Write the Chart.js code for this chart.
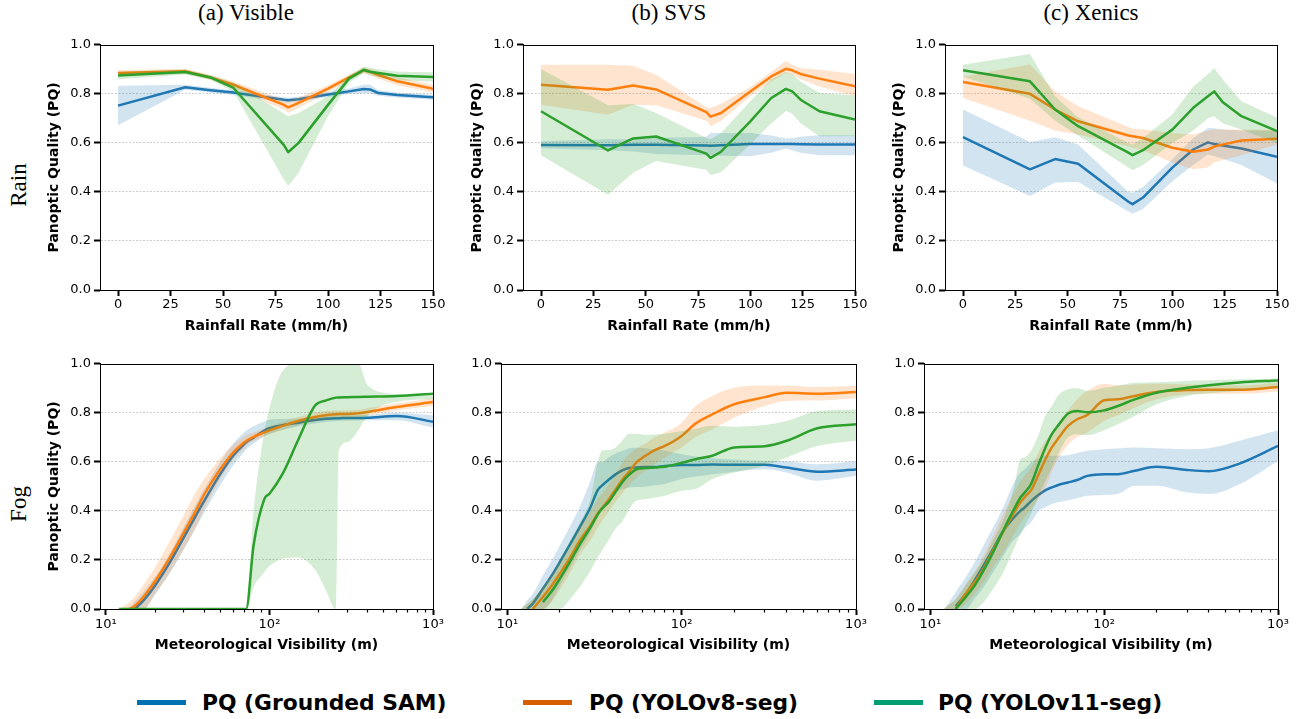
<!DOCTYPE html>
<html>
<head>
<meta charset="utf-8">
<script src="https://cdn.jsdelivr.net/npm/chart.js"></script>
<style>
  body { margin: 0; width: 1303px; height: 719px; background: #fff; position: relative; overflow: hidden; font-family: "DejaVu Sans", sans-serif; }
  canvas { position: absolute; }
  .col { position: absolute; top: 1px; font: 23px "Liberation Serif", serif; line-height: 23px; transform: translateX(-50%); white-space: nowrap; color: #000; }
  .row { position: absolute; font: 23px "Liberation Serif", serif; line-height: 23px; transform: translate(-50%, -50%) rotate(-90deg); white-space: nowrap; color: #000; }
  .leg-line { position: absolute; height: 5px; width: 49px; top: 700px; }
  .leg-text { position: absolute; top: 690px; font: bold 21.8px "DejaVu Sans", sans-serif; line-height: 26px; white-space: nowrap; color: #000; }
</style>
</head>
<body>
<div class="col" style="left:246px">(a) Visible</div>
<div class="col" style="left:669px">(b) SVS</div>
<div class="col" style="left:1091px">(c) Xenics</div>
<div class="row" style="left:18px; top:185px">Rain</div>
<div class="row" style="left:18px; top:504px">Fog</div>

<div class="leg-line" style="left:137px; background:#0072B2"></div>
<div class="leg-text" style="left:202px">PQ (Grounded SAM)</div>
<div class="leg-line" style="left:523px; background:#D55E00"></div>
<div class="leg-text" style="left:589px">PQ (YOLOv8-seg)</div>
<div class="leg-line" style="left:874px; background:#009E73"></div>
<div class="leg-text" style="left:938px">PQ (YOLOv11-seg)</div>

<script>
// ---- data ----
const rainX = [0, 32, 44, 55, 79, 81, 86, 100, 110, 117, 120, 124, 133, 150];

const visRainSam   = [0.752, 0.827, 0.815, 0.805, 0.776, 0.774, 0.778, 0.797, 0.81, 0.82, 0.818, 0.803, 0.795, 0.786];
const visRainSamLo = [0.672, 0.817, 0.805, 0.795, 0.766, 0.764, 0.768, 0.787, 0.8, 0.802, 0.802, 0.792, 0.785, 0.776];
const visRainSamHi = [0.833, 0.837, 0.825, 0.815, 0.786, 0.784, 0.788, 0.807, 0.822, 0.837, 0.838, 0.815, 0.805, 0.796];
const visRainV8    = [0.885, 0.892, 0.867, 0.837, 0.755, 0.745, 0.763, 0.821, 0.867, 0.896, 0.89, 0.877, 0.851, 0.821];
const visRainV8Lo  = [0.872, 0.882, 0.857, 0.822, 0.735, 0.722, 0.742, 0.805, 0.855, 0.885, 0.878, 0.862, 0.835, 0.805];
const visRainV8Hi  = [0.897, 0.902, 0.877, 0.85, 0.775, 0.77, 0.785, 0.835, 0.878, 0.907, 0.902, 0.89, 0.867, 0.837];
const visRainV11   = [0.875, 0.889, 0.867, 0.824, 0.591, 0.562, 0.6, 0.755, 0.862, 0.898, 0.89, 0.885, 0.874, 0.869];
const visRainV11Lo = [0.86, 0.879, 0.857, 0.81, 0.45, 0.424, 0.478, 0.71, 0.845, 0.885, 0.876, 0.868, 0.855, 0.85];
const visRainV11Hi = [0.89, 0.899, 0.877, 0.845, 0.72, 0.709, 0.722, 0.79, 0.875, 0.912, 0.905, 0.9, 0.89, 0.888];

const svsRainSam   = [0.591, 0.59, 0.592, 0.592, 0.589, 0.588, 0.59, 0.595, 0.595, 0.595, 0.595, 0.594, 0.593, 0.593];
const svsRainSamLo = [0.578, 0.57, 0.565, 0.555, 0.55, 0.55, 0.548, 0.545, 0.56, 0.577, 0.57, 0.56, 0.55, 0.55];
const svsRainSamHi = [0.607, 0.615, 0.615, 0.62, 0.625, 0.64, 0.64, 0.64, 0.63, 0.618, 0.62, 0.625, 0.631, 0.631];
const svsRainV8    = [0.837, 0.817, 0.834, 0.818, 0.725, 0.707, 0.722, 0.81, 0.871, 0.902, 0.896, 0.881, 0.862, 0.831];
const svsRainV8Lo  = [0.756, 0.715, 0.756, 0.753, 0.69, 0.668, 0.69, 0.79, 0.85, 0.885, 0.878, 0.86, 0.83, 0.79];
const svsRainV8Hi  = [0.919, 0.919, 0.915, 0.878, 0.745, 0.742, 0.76, 0.828, 0.89, 0.935, 0.918, 0.905, 0.898, 0.881];
const svsRainV11   = [0.729, 0.569, 0.618, 0.626, 0.556, 0.539, 0.564, 0.688, 0.783, 0.82, 0.81, 0.776, 0.729, 0.695];
const svsRainV11Lo = [0.55, 0.388, 0.478, 0.526, 0.49, 0.469, 0.48, 0.594, 0.68, 0.73, 0.72, 0.68, 0.627, 0.627];
const svsRainV11Hi = [0.901, 0.753, 0.759, 0.722, 0.62, 0.615, 0.64, 0.77, 0.86, 0.889, 0.88, 0.85, 0.803, 0.793];

const xenRainSam   = [0.623, 0.492, 0.534, 0.515, 0.36, 0.35, 0.377, 0.499, 0.573, 0.602, 0.595, 0.589, 0.577, 0.543];
const xenRainSamLo = [0.508, 0.383, 0.438, 0.44, 0.32, 0.312, 0.33, 0.444, 0.51, 0.553, 0.545, 0.535, 0.51, 0.434];
const xenRainSamHi = [0.736, 0.604, 0.623, 0.593, 0.4, 0.397, 0.42, 0.533, 0.62, 0.661, 0.66, 0.655, 0.65, 0.648];
const xenRainV8    = [0.848, 0.8, 0.736, 0.688, 0.63, 0.627, 0.62, 0.58, 0.564, 0.573, 0.585, 0.593, 0.61, 0.617];
const xenRainV8Lo  = [0.783, 0.69, 0.65, 0.634, 0.585, 0.58, 0.57, 0.52, 0.492, 0.5, 0.52, 0.53, 0.55, 0.593];
const xenRainV8Hi  = [0.871, 0.92, 0.81, 0.749, 0.665, 0.659, 0.655, 0.64, 0.634, 0.65, 0.655, 0.655, 0.655, 0.654];
const xenRainV11   = [0.896, 0.851, 0.736, 0.668, 0.56, 0.55, 0.57, 0.654, 0.743, 0.79, 0.81, 0.767, 0.709, 0.648];
const xenRainV11Lo = [0.87, 0.78, 0.69, 0.63, 0.5, 0.488, 0.51, 0.6, 0.65, 0.7, 0.709, 0.68, 0.655, 0.6];
const xenRainV11Hi = [0.919, 0.962, 0.79, 0.705, 0.6, 0.593, 0.62, 0.716, 0.83, 0.88, 0.905, 0.86, 0.77, 0.702];

const visFogX = [12, 14, 15, 17, 20, 25, 30, 35, 40, 50, 60, 70, 72, 80, 93, 100, 120, 150, 190, 220, 255, 265, 300, 350, 400, 600, 1000];
const visFogSam   = [null, null, 0.0, 0.035, 0.096, 0.198, 0.293, 0.374, 0.442, 0.55, 0.625, 0.672, 0.68, 0.699, 0.728, 0.737, 0.749, 0.76, 0.771, 0.776, 0.778, 0.778, 0.779, 0.779, 0.78, 0.787, 0.764];
const visFogSamLo = [0, 0, 0, 0, 0.06, 0.155, 0.245, 0.325, 0.395, 0.505, 0.585, 0.64, 0.65, 0.675, 0.705, 0.715, 0.73, 0.745, 0.757, 0.763, 0.766, 0.767, 0.768, 0.769, 0.77, 0.77, 0.74];
const visFogSamHi = [0, 0.01, 0.03, 0.07, 0.13, 0.235, 0.335, 0.42, 0.49, 0.6, 0.675, 0.72, 0.727, 0.745, 0.765, 0.772, 0.775, 0.777, 0.783, 0.787, 0.79, 0.79, 0.79, 0.79, 0.792, 0.8, 0.79];
const visFogV8    = [null, 0.0, 0.012, 0.05, 0.114, 0.218, 0.313, 0.394, 0.469, 0.57, 0.638, 0.679, 0.685, 0.702, 0.72, 0.729, 0.747, 0.767, 0.783, 0.79, 0.794, 0.795, 0.795, 0.798, 0.804, 0.824, 0.844];
const visFogV8Lo  = [0, 0, 0, 0, 0.06, 0.155, 0.245, 0.325, 0.41, 0.53, 0.61, 0.655, 0.665, 0.685, 0.705, 0.713, 0.73, 0.75, 0.766, 0.774, 0.778, 0.779, 0.78, 0.783, 0.79, 0.81, 0.828];
const visFogV8Hi  = [0, 0.03, 0.05, 0.1, 0.17, 0.285, 0.385, 0.47, 0.53, 0.615, 0.67, 0.705, 0.71, 0.72, 0.737, 0.745, 0.763, 0.783, 0.8, 0.807, 0.81, 0.81, 0.81, 0.813, 0.82, 0.838, 0.86];
const visFogV11   = [0, 0, 0, 0, 0, 0, 0, 0, 0, 0, 0, 0, 0.0, 0.26, 0.448, 0.47, 0.55, 0.69, 0.83, 0.85, 0.862, 0.863, 0.864, 0.865, 0.866, 0.869, 0.878];
const visFogV11Lo = [0, 0, 0, 0, 0, 0, 0, 0, 0, 0, 0, 0, 0, 0.09, 0.15, 0.175, 0.205, 0.21, 0.16, 0.08, 0.0, 0.645, 0.68, 0.73, 0.79, 0.845, 0.855];
const visFogV11Hi = [0, 0, 0, 0, 0, 0, 0, 0, 0, 0, 0, 0, 0.0, 0.4, 0.72, 0.82, 0.97, 1.0, 1.0, 1.0, 1.0, 1.0, 1.0, 1.0, 0.91, 0.876, 0.869];

const fogX = [12, 13, 14, 16, 18, 20, 23, 26, 30, 33, 35, 38, 42, 46, 50, 55, 62, 70, 80, 100, 120, 150, 200, 300, 400, 600, 1000];
const svsFogSam   = [null, 0.0, 0.022, 0.083, 0.137, 0.191, 0.266, 0.333, 0.415, 0.485, 0.504, 0.526, 0.55, 0.566, 0.575, 0.577, 0.579, 0.579, 0.583, 0.587, 0.587, 0.589, 0.588, 0.588, 0.577, 0.56, 0.569];
const svsFogSamLo = [0, 0, 0, 0, 0.035, 0.096, 0.171, 0.238, 0.313, 0.374, 0.415, 0.449, 0.476, 0.489, 0.496, 0.498, 0.499, 0.505, 0.51, 0.53, 0.54, 0.55, 0.56, 0.57, 0.557, 0.523, 0.543];
const svsFogSamHi = [0, 0.035, 0.062, 0.137, 0.198, 0.259, 0.34, 0.415, 0.523, 0.6, 0.6, 0.618, 0.635, 0.645, 0.656, 0.658, 0.656, 0.65, 0.645, 0.631, 0.622, 0.615, 0.61, 0.604, 0.603, 0.59, 0.604];
const svsFogV8    = [null, null, 0.0, 0.049, 0.096, 0.144, 0.211, 0.279, 0.34, 0.39, 0.412, 0.445, 0.49, 0.53, 0.56, 0.598, 0.625, 0.648, 0.665, 0.706, 0.756, 0.794, 0.835, 0.864, 0.882, 0.878, 0.885];
const svsFogV8Lo  = [0, 0, 0, 0, 0.03, 0.08, 0.15, 0.22, 0.28, 0.33, 0.36, 0.395, 0.44, 0.475, 0.505, 0.535, 0.565, 0.59, 0.618, 0.659, 0.7, 0.733, 0.78, 0.828, 0.848, 0.85, 0.859];
const svsFogV8Hi  = [0, 0.02, 0.04, 0.09, 0.14, 0.19, 0.26, 0.33, 0.4, 0.45, 0.47, 0.505, 0.55, 0.6, 0.63, 0.655, 0.675, 0.7, 0.72, 0.76, 0.828, 0.869, 0.902, 0.912, 0.912, 0.905, 0.909];
const svsFogV11   = [null, null, null, 0.028, 0.073, 0.123, 0.195, 0.263, 0.333, 0.385, 0.41, 0.435, 0.48, 0.52, 0.548, 0.57, 0.575, 0.577, 0.58, 0.596, 0.611, 0.625, 0.659, 0.664, 0.686, 0.737, 0.753];
const svsFogV11Lo = [0, 0, 0, 0, 0, 0, 0.042, 0.089, 0.157, 0.211, 0.24, 0.279, 0.33, 0.36, 0.408, 0.442, 0.448, 0.455, 0.462, 0.482, 0.489, 0.53, 0.557, 0.584, 0.618, 0.665, 0.686];
const svsFogV11Hi = [0, 0.02, 0.04, 0.09, 0.14, 0.2, 0.28, 0.35, 0.45, 0.6, 0.645, 0.648, 0.66, 0.69, 0.715, 0.715, 0.71, 0.712, 0.715, 0.726, 0.735, 0.747, 0.743, 0.75, 0.767, 0.808, 0.814];

const xenFogSam   = [null, null, 0.01, 0.062, 0.117, 0.171, 0.245, 0.313, 0.37, 0.4, 0.415, 0.44, 0.466, 0.485, 0.496, 0.507, 0.516, 0.526, 0.543, 0.55, 0.55, 0.564, 0.58, 0.567, 0.562, 0.593, 0.665];
const xenFogSamLo = [0, 0, 0, 0, 0.042, 0.083, 0.15, 0.211, 0.279, 0.306, 0.33, 0.354, 0.4, 0.415, 0.428, 0.436, 0.444, 0.452, 0.462, 0.465, 0.47, 0.503, 0.503, 0.476, 0.469, 0.509, 0.604];
const xenFogSamHi = [0, 0.035, 0.069, 0.13, 0.19, 0.252, 0.333, 0.408, 0.509, 0.557, 0.57, 0.598, 0.615, 0.625, 0.625, 0.626, 0.627, 0.636, 0.645, 0.652, 0.655, 0.659, 0.656, 0.652, 0.656, 0.686, 0.729];
const xenFogV8    = [null, null, 0.0, 0.062, 0.11, 0.157, 0.238, 0.309, 0.388, 0.435, 0.458, 0.485, 0.55, 0.611, 0.659, 0.7, 0.747, 0.774, 0.791, 0.851, 0.855, 0.869, 0.885, 0.893, 0.894, 0.894, 0.905];
const xenFogV8Lo  = [0, 0, 0, 0.02, 0.06, 0.103, 0.17, 0.225, 0.3, 0.35, 0.375, 0.408, 0.45, 0.496, 0.56, 0.618, 0.67, 0.7, 0.72, 0.767, 0.79, 0.821, 0.855, 0.875, 0.878, 0.878, 0.886];
const xenFogV8Hi  = [0, 0.02, 0.04, 0.1, 0.15, 0.21, 0.3, 0.38, 0.469, 0.52, 0.545, 0.577, 0.64, 0.686, 0.72, 0.76, 0.81, 0.855, 0.89, 0.919, 0.912, 0.916, 0.919, 0.916, 0.914, 0.912, 0.923];
const xenFogV11   = [null, null, 0.0, 0.049, 0.096, 0.15, 0.232, 0.313, 0.401, 0.455, 0.476, 0.51, 0.591, 0.659, 0.713, 0.753, 0.797, 0.808, 0.802, 0.81, 0.828, 0.855, 0.882, 0.902, 0.913, 0.924, 0.932];
const xenFogV11Lo = [0, 0, 0, 0, 0, 0.022, 0.083, 0.144, 0.238, 0.306, 0.34, 0.388, 0.462, 0.523, 0.577, 0.638, 0.7, 0.713, 0.709, 0.729, 0.753, 0.787, 0.835, 0.869, 0.88, 0.889, 0.902];
const xenFogV11Hi = [0, 0.02, 0.04, 0.1, 0.15, 0.198, 0.28, 0.354, 0.482, 0.611, 0.618, 0.645, 0.713, 0.79, 0.828, 0.875, 0.896, 0.9, 0.889, 0.902, 0.912, 0.923, 0.925, 0.93, 0.933, 0.936, 0.94];

const rainTicks = [0, 25, 50, 75, 100, 125, 150];
const yTicks = [0, 0.2, 0.4, 0.6, 0.8, 1.0];
const fogMajor = [10, 100, 1000];
const fogLabels = ['10¹', '10²', '10³'];
const fogMinor = [20, 30, 40, 50, 60, 70, 80, 90, 200, 300, 400, 500, 600, 700, 800, 900];

// ---- styling ----
const LINE = { sam: '#1f77b4', v8: '#ff7f0e', v11: '#2ca02c' };
const BAND = { sam: 'rgba(31,119,180,0.2)', v8: 'rgba(255,127,14,0.2)', v11: 'rgba(44,160,44,0.2)' };
const TICK_FONT = { family: 'DejaVu Sans', size: 13 };
const TITLE_FONT = { family: 'DejaVu Sans', size: 14, weight: 'bold' };
const Y_W = 70, X_H = 50, PAD_T = 10, PAD_R = 22, PLOT_H = 246;

const frame = {
  id: 'frame',
  afterDraw(chart) {
    const { ctx, chartArea: a } = chart;
    ctx.save();
    ctx.strokeStyle = '#000';
    ctx.lineWidth = 1;
    const l = Math.round(a.left) + 0.5, t = Math.round(a.top) + 0.5;
    ctx.strokeRect(l, t, Math.round(a.right) - Math.round(a.left), Math.round(a.bottom) - Math.round(a.top));
    ctx.restore();
  }
};

function pts(xs, ys) {
  return xs.map((x, i) => ({ x: x, y: ys[i] }));
}

function datasets(xs, series, smooth) {
  const out = [];
  const interp = smooth ? 'monotone' : 'default';
  series.forEach((s, k) => {
    const base = 30 - k * 3;
    out.push({ data: pts(xs, s.lo), borderWidth: 0, borderColor: 'rgba(0,0,0,0)', pointRadius: 0, fill: false, order: base, cubicInterpolationMode: interp });
    out.push({ data: pts(xs, s.hi), borderWidth: 0, borderColor: 'rgba(0,0,0,0)', pointRadius: 0, backgroundColor: BAND[s.key], fill: '-1', order: base, cubicInterpolationMode: interp });
    out.push({ data: pts(xs, s.mean), borderWidth: 2.5, borderColor: LINE[s.key], pointRadius: 0, fill: false, order: base - 1, cubicInterpolationMode: interp, borderJoinStyle: 'round', borderCapStyle: 'butt' });
  });
  return out;
}

function yScale(withTitle) {
  return {
    type: 'linear', min: 0, max: 1,
    afterBuildTicks: s => { s.ticks = yTicks.map(v => ({ value: v })); },
    afterFit: s => { s.width = Y_W; },
    ticks: { font: TICK_FONT, color: '#000', padding: 3, callback: v => Number(v).toFixed(1) },
    grid: {
      color: c => (c.tick && c.tick.value > 0.01 && c.tick.value < 0.99) ? '#cdcdcd' : 'rgba(0,0,0,0)',
      lineWidth: 1, tickLength: 6, tickWidth: 2, tickColor: '#000'
    },
    border: { display: true, color: '#000', width: 1, dash: [2, 1.5] },
    title: { display: withTitle, text: 'Panoptic Quality (PQ)', font: TITLE_FONT, color: '#000', padding: { top: 16, bottom: 0 } }
  };
}

function rainScales(withTitle) {
  return {
    x: {
      type: 'linear', min: -8.6, max: 150,
      afterBuildTicks: s => { s.ticks = rainTicks.map(v => ({ value: v })); },
      afterFit: s => { s.height = X_H; },
      ticks: { font: TICK_FONT, color: '#000', padding: 1, maxRotation: 0, autoSkip: false },
      grid: { drawOnChartArea: false, tickLength: 6, tickWidth: 2, tickColor: '#000' },
      border: { display: true, color: '#000', width: 1 },
      title: { display: true, text: 'Rainfall Rate (mm/h)', font: TITLE_FONT, color: '#000', padding: { top: 0, bottom: 5 } }
    },
    y: yScale(withTitle)
  };
}

function fogScales(withTitle) {
  return {
    x: {
      type: 'logarithmic', min: 9.2, max: 1000, weight: 1,
      afterBuildTicks: s => { s.ticks = fogMajor.map(v => ({ value: v })); },
      afterFit: s => { s.height = X_H; },
      ticks: { font: TICK_FONT, color: '#000', padding: 2, maxRotation: 0, autoSkip: false,
               callback: v => fogLabels[fogMajor.indexOf(Math.round(v))] },
      grid: { drawOnChartArea: false, tickLength: 6, tickWidth: 2, tickColor: '#000' },
      border: { display: true, color: '#000', width: 1 },
      title: { display: true, text: 'Meteorological Visibility (m)', font: TITLE_FONT, color: '#000', padding: { top: 0, bottom: 5 } }
    },
    xm: {
      type: 'logarithmic', position: 'bottom', axis: 'x', min: 9.2, max: 1000, weight: 0,
      afterBuildTicks: s => { s.ticks = fogMinor.map(v => ({ value: v })); },
      afterFit: s => { s.height = 0; },
      ticks: { display: false },
      grid: { drawOnChartArea: false, tickLength: 3.5, tickWidth: 1.2, tickColor: '#000' },
      border: { display: false }
    },
    y: yScale(withTitle)
  };
}

const panels = [
  { left: 100, top: 44, w: 333, xs: rainX, fog: false, yTitle: true,
    series: [{ key: 'sam', mean: visRainSam, lo: visRainSamLo, hi: visRainSamHi },
             { key: 'v8', mean: visRainV8, lo: visRainV8Lo, hi: visRainV8Hi },
             { key: 'v11', mean: visRainV11, lo: visRainV11Lo, hi: visRainV11Hi }] },
  { left: 523, top: 44, w: 332, xs: rainX, fog: false, yTitle: true,
    series: [{ key: 'sam', mean: svsRainSam, lo: svsRainSamLo, hi: svsRainSamHi },
             { key: 'v8', mean: svsRainV8, lo: svsRainV8Lo, hi: svsRainV8Hi },
             { key: 'v11', mean: svsRainV11, lo: svsRainV11Lo, hi: svsRainV11Hi }] },
  { left: 945, top: 44, w: 332, xs: rainX, fog: false, yTitle: true,
    series: [{ key: 'sam', mean: xenRainSam, lo: xenRainSamLo, hi: xenRainSamHi },
             { key: 'v8', mean: xenRainV8, lo: xenRainV8Lo, hi: xenRainV8Hi },
             { key: 'v11', mean: xenRainV11, lo: xenRainV11Lo, hi: xenRainV11Hi }] },
  { left: 100, top: 363, w: 333, xs: visFogX, fog: true, yTitle: true,
    series: [{ key: 'sam', mean: visFogSam, lo: visFogSamLo, hi: visFogSamHi },
             { key: 'v8', mean: visFogV8, lo: visFogV8Lo, hi: visFogV8Hi },
             { key: 'v11', mean: visFogV11, lo: visFogV11Lo, hi: visFogV11Hi }] },
  { left: 501, top: 363, w: 355, xs: fogX, fog: true, yTitle: false,
    series: [{ key: 'sam', mean: svsFogSam, lo: svsFogSamLo, hi: svsFogSamHi },
             { key: 'v8', mean: svsFogV8, lo: svsFogV8Lo, hi: svsFogV8Hi },
             { key: 'v11', mean: svsFogV11, lo: svsFogV11Lo, hi: svsFogV11Hi }] },
  { left: 924, top: 363, w: 354, xs: fogX, fog: true, yTitle: false,
    series: [{ key: 'sam', mean: xenFogSam, lo: xenFogSamLo, hi: xenFogSamHi },
             { key: 'v8', mean: xenFogV8, lo: xenFogV8Lo, hi: xenFogV8Hi },
             { key: 'v11', mean: xenFogV11, lo: xenFogV11Lo, hi: xenFogV11Hi }] }
];

panels.forEach(p => {
  const canvas = document.createElement('canvas');
  const cw = Y_W + p.w + PAD_R, ch = PAD_T + PLOT_H + X_H;
  canvas.width = cw;
  canvas.height = ch;
  canvas.style.width = cw + 'px';
  canvas.style.height = ch + 'px';
  canvas.style.left = (p.left - Y_W) + 'px';
  canvas.style.top = (p.top - PAD_T) + 'px';
  document.body.appendChild(canvas);

  new Chart(canvas, {
    type: 'line',
    data: { datasets: datasets(p.xs, p.series, p.fog) },
    options: {
      responsive: false,
      animation: false,
      devicePixelRatio: 1,
      layout: { padding: { top: PAD_T, right: PAD_R, left: 0, bottom: 0 } },
      scales: p.fog ? fogScales(p.yTitle) : rainScales(p.yTitle),
      plugins: {
        legend: { display: false },
        tooltip: { enabled: false },
        filler: { propagate: false }
      },
      elements: { line: { tension: 0 } }
    },
    plugins: [frame]
  });
});
</script>
</body>
</html>
